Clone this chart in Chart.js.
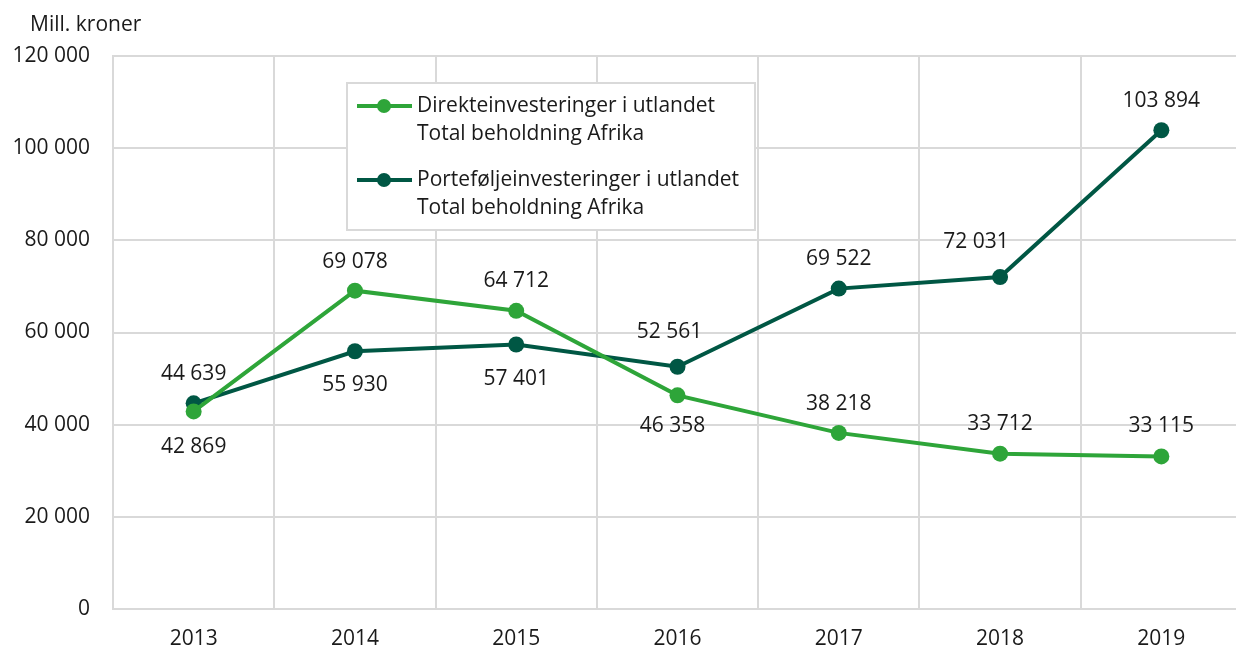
<!DOCTYPE html>
<html>
<head>
<meta charset="utf-8">
<script src="https://cdn.jsdelivr.net/npm/chart.js@4/dist/chart.umd.min.js"></script>
<style>
  html, body { margin: 0; padding: 0; background: #fff; overflow: hidden; }
  #wrap { width: 1250px; height: 648px; }
</style>
</head>
<body>
<div id="wrap"><canvas id="c" width="1250" height="648"></canvas></div>
<script>
// ---- data ----
const years = ['2013', '2014', '2015', '2016', '2017', '2018', '2019'];
const direkte = [42869, 69078, 64712, 46358, 38218, 33712, 33115];
const portefolje = [44639, 55930, 57401, 52561, 69522, 72031, 103894];
const seriesNames = [
  ['Direkteinvesteringer i utlandet', 'Total beholdning Afrika'],
  ['Porteføljeinvesteringer i utlandet', 'Total beholdning Afrika']
];
const yAxisTitle = 'Mill. kroner';

// ---- styling: data-label offsets [dx, dy] in px relative to each point ----
const direkteLabelOffsets = [[0, 36], [0, -29], [0, -30], [-5, 31], [0, -29], [0, -30], [0, -30]];
const portefoljeLabelOffsets = [[0, -29.5], [0, 34], [0, 35], [-8, -35], [0, -30], [-24, -35], [0, -29]];

const GREEN = '#2ea539';
const DARK = '#005744';
const GRID = '#d9d9d9';
const FONT = '"Open Sans", "Noto Sans", sans-serif';
const FS = 21;
const TXT = '#1a1a1a';

function fmt(v) {
  return String(v).replace(/\B(?=(\d{3})+(?!\d))/g, ' ');
}

const extras = {
  id: 'extras',
  afterDatasetsDraw(chart) {
    const ctx = chart.ctx;
    ctx.save();
    ctx.font = FS + 'px ' + FONT;
    ctx.fillStyle = TXT;
    ctx.textBaseline = 'middle';
    ctx.textAlign = 'center';
    const offArr = [direkteLabelOffsets, portefoljeLabelOffsets];
    chart.data.datasets.forEach((ds, di) => {
      const meta = chart.getDatasetMeta(di);
      meta.data.forEach((pt, i) => {
        const o = offArr[di][i];
        ctx.fillText(fmt(ds.data[i]), pt.x + o[0], pt.y + o[1]);
      });
    });
    // y axis title
    ctx.textAlign = 'left';
    ctx.fillText(yAxisTitle, 30, 25);

    // legend box
    const bx = 347, by = 83, bw = 408, bh = 147;
    ctx.fillStyle = '#fff';
    ctx.fillRect(bx, by, bw, bh);
    ctx.strokeStyle = GRID;
    ctx.lineWidth = 2;
    ctx.strokeRect(bx, by, bw, bh);
    const items = [
      { color: GREEN, y: 106, names: seriesNames[0] },
      { color: DARK, y: 180, names: seriesNames[1] }
    ];
    items.forEach(it => {
      ctx.strokeStyle = it.color;
      ctx.lineWidth = 4;
      ctx.beginPath();
      ctx.moveTo(357, it.y);
      ctx.lineTo(412, it.y);
      ctx.stroke();
      ctx.fillStyle = it.color;
      ctx.beginPath();
      ctx.arc(384, it.y, 7, 0, Math.PI * 2);
      ctx.fill();
      ctx.fillStyle = TXT;
      ctx.textAlign = 'left';
      ctx.fillText(it.names[0], 417, it.y);
      ctx.fillText(it.names[1], 417, it.y + 28);
    });
    ctx.restore();
  }
};

new Chart(document.getElementById('c'), {
  type: 'line',
  data: {
    labels: years,
    datasets: [
      {
        label: seriesNames[0].join(' '),
        data: direkte,
        borderColor: GREEN,
        backgroundColor: GREEN,
        borderWidth: 4,
        pointRadius: 8,
        pointBorderWidth: 0,
        pointBackgroundColor: GREEN,
        tension: 0
      },
      {
        label: seriesNames[1].join(' '),
        data: portefolje,
        borderColor: DARK,
        backgroundColor: DARK,
        borderWidth: 4,
        pointRadius: 8,
        pointBorderWidth: 0,
        pointBackgroundColor: DARK,
        tension: 0
      }
    ]
  },
  options: {
    responsive: false,
    animation: false,
    layout: { padding: { left: 0, right: 7, top: 56, bottom: 0 } },
    plugins: { legend: { display: false }, tooltip: { enabled: false } },
    scales: {
      x: {
        offset: true,
        grid: { color: GRID, lineWidth: 2, offset: true, drawTicks: false },
        border: { color: GRID, width: 2 },
        ticks: { color: TXT, font: { family: FONT, size: FS }, padding: 17, maxRotation: 0 },
        afterFit(s) { s.height = 39; }
      },
      y: {
        min: 0, max: 120000,
        grid: { color: GRID, lineWidth: 2, drawTicks: false },
        border: { color: GRID, width: 2 },
        ticks: {
          stepSize: 20000,
          color: TXT,
          font: { family: FONT, size: FS },
          padding: 23,
          callback: v => fmt(v)
        },
        afterFit(s) { s.width = 113; }
      }
    }
  },
  plugins: [extras]
});
</script>
</body>
</html>
